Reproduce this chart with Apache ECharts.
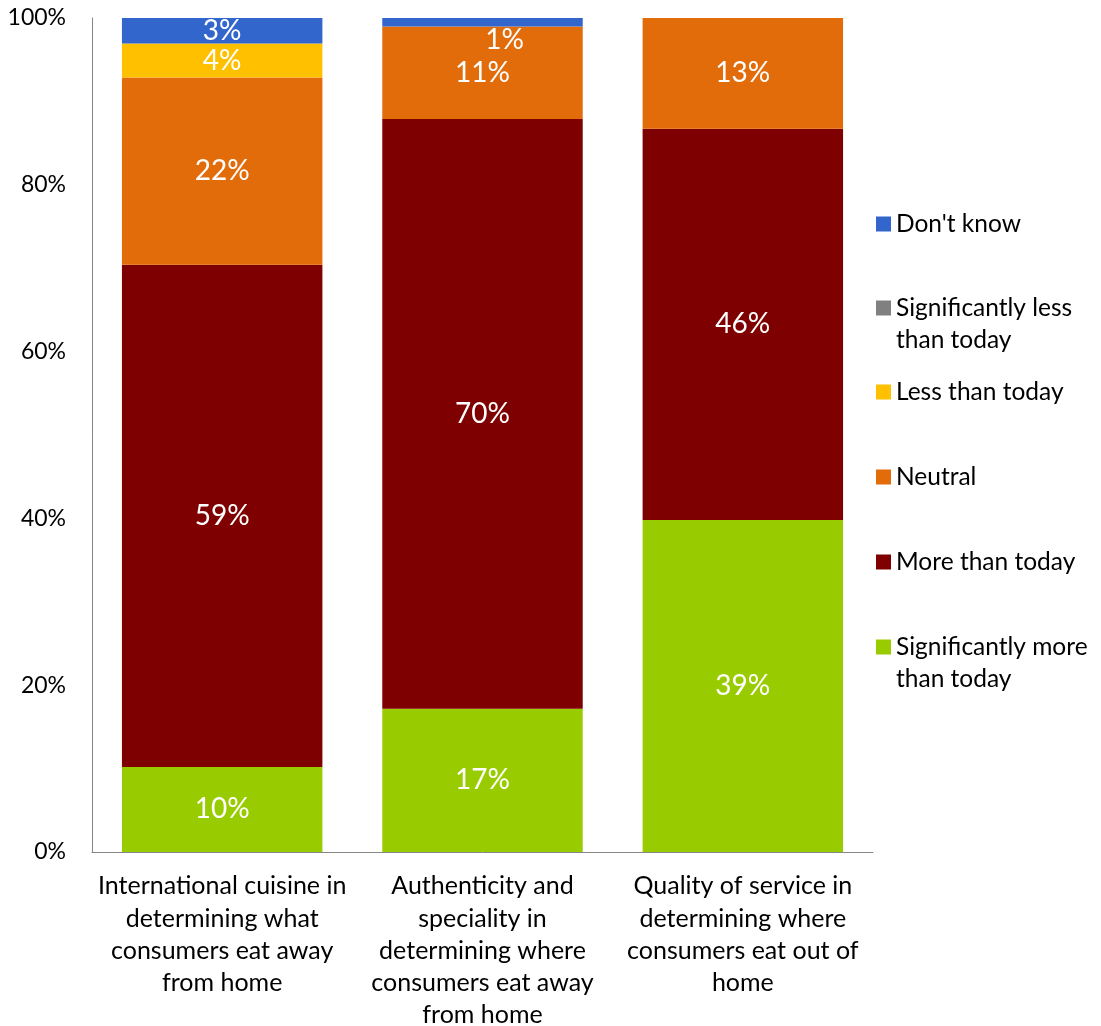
<!DOCTYPE html>
<html>
<head>
<meta charset="utf-8">
<script src="https://cdn.jsdelivr.net/npm/echarts@6/dist/echarts.min.js"></script>
<style>
html,body{margin:0;padding:0;background:#fff;overflow:hidden;}
#chart{width:1101px;height:1026px;}
</style>
</head>
<body>
<div id="chart"></div>
<script>
// ---- Data ----
var categories = [
  'International cuisine in\ndetermining what\nconsumers eat away\nfrom home',
  'Authenticity and\nspeciality in\ndetermining where\nconsumers eat away\nfrom home',
  'Quality of service in\ndetermining where\nconsumers eat out of\nhome'
];
var seriesNames = ['Significantly more than today', 'More than today', 'Neutral', 'Less than today', 'Significantly less than today', "Don't know"];
var sigMore  = [10, 17, 39];
var more     = [59, 70, 46];
var neutral  = [22, 11, 13];
var less     = [4, 0, 0];
var sigLess  = [0, 0, 0];
var dontKnow = [3, 1, 0];
var yTicks = [0, 20, 40, 60, 80, 100];

var colors = ['#99CC00', '#7F0000', '#E36C0A', '#FFC000', '#808080', '#3366CC'];
var raw = [sigMore, more, neutral, less, sigLess, dontKnow];
var FONT = 'Lato';

// 100% stacked: normalise each category
var totals = categories.map(function (_, i) {
  return raw.reduce(function (s, arr) { return s + arr[i]; }, 0);
});

var series = raw.map(function (arr, si) {
  return {
    name: seriesNames[si],
    type: 'bar',
    stack: 'total',
    barCategoryGap: '23%',
    itemStyle: { color: colors[si] },
    label: {
      show: true,
      color: '#fff',
      fontFamily: FONT,
      fontSize: 28,
      formatter: function (p) { return p.data.raw + '%'; }
    },
    data: arr.map(function (v, i) {
      if (!v) return { value: 0, raw: 0, label: { show: false } };
      var item = { value: v / totals[i] * 100, raw: v };
      if (si === 5 && i === 1) item.label = { offset: [22, 18] };
      return item;
    })
  };
});

var LEG_FS = 24.5;
function legendItem(name, center, twoLine) {
  return {
    data: [name],
    left: 876,
    top: twoLine ? center - 48 : center - 16,
    padding: 0,
    itemWidth: 15,
    itemHeight: 15,
    itemGap: 0,
    selectedMode: false,
    icon: 'rect',
    formatter: function (n) {
      var m = n.match(/^(Significantly (?:less|more)) (than today)$/);
      if (m) return '{p| }\n{a|' + m[1] + '}\n{a|' + m[2] + '}';
      return '{a|' + n + '}';
    },
    textStyle: {
      fontFamily: FONT, fontSize: LEG_FS, lineHeight: 32, color: '#000',
      rich: {
        a: { fontFamily: FONT, fontSize: LEG_FS, lineHeight: 32, color: '#000' },
        p: { fontFamily: FONT, fontSize: LEG_FS, lineHeight: 32 }
      }
    }
  };
}

var chart = echarts.init(document.getElementById('chart'));
chart.setOption({
  animation: false,
  backgroundColor: '#fff',
  grid: { left: 92, right: 228, top: 18, bottom: 174, containLabel: false, outerBoundsMode: 'none' },
  legend: [
    legendItem("Don't know", 224, false),
    legendItem('Significantly less than today', 308, true),
    legendItem('Less than today', 392, false),
    legendItem('Neutral', 477, false),
    legendItem('More than today', 562, false),
    legendItem('Significantly more than today', 647, true)
  ],
  xAxis: {
    type: 'category',
    data: categories,
    axisLine: { lineStyle: { color: '#868686', width: 1 } },
    axisTick: { show: false },
    axisLabel: {
      interval: 0,
      margin: 18,
      fontFamily: FONT, fontSize: 25, lineHeight: 32.3, color: '#000',
      align: 'center'
    }
  },
  yAxis: {
    type: 'value',
    min: yTicks[0],
    max: yTicks[yTicks.length - 1],
    interval: yTicks[1] - yTicks[0],
    axisLine: { show: true, lineStyle: { color: '#868686', width: 1 } },
    axisTick: { show: false },
    splitLine: { show: false },
    axisLabel: {
      margin: 26,
      fontFamily: FONT, fontSize: 23, color: '#000',
      formatter: '{value}%'
    }
  },
  series: series
});
</script>
</body>
</html>
